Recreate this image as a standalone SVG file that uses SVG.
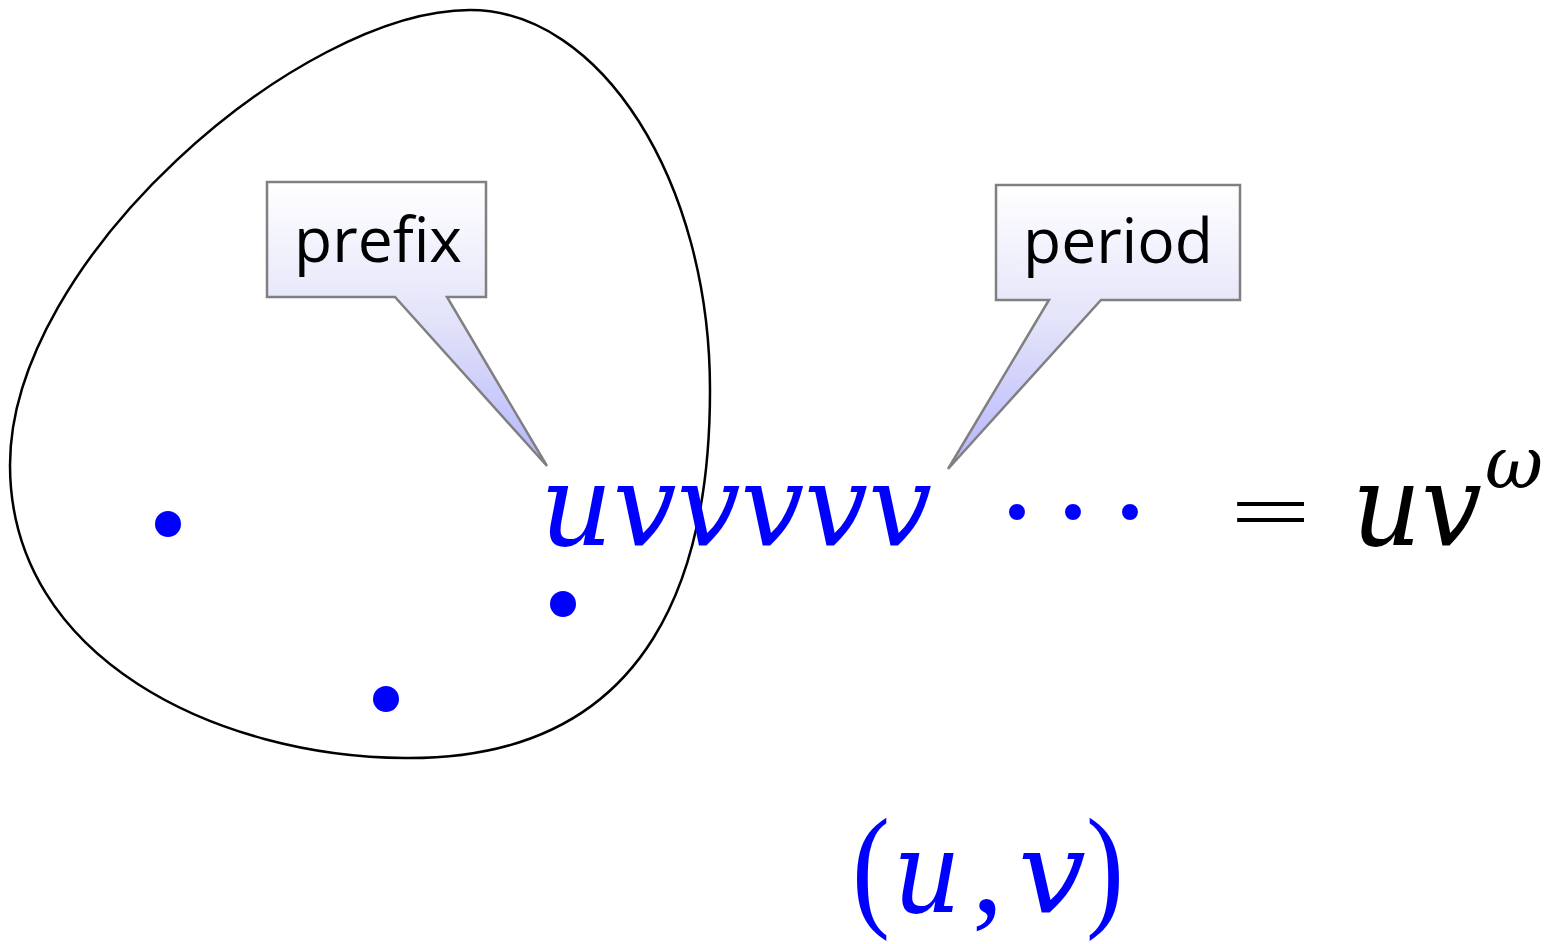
<svg xmlns="http://www.w3.org/2000/svg" width="1553" height="944" viewBox="0 0 1553 944">
<defs>
<linearGradient id="callg" x1="0" y1="0" x2="0" y2="1">
<stop offset="0" stop-color="#ffffff"/>
<stop offset="0.5" stop-color="#e2e2fa"/>
<stop offset="1" stop-color="#b4b4ff"/>
</linearGradient>
<style>
.blob{fill:none;stroke:#000;stroke-width:2.5}
.call{fill:url(#callg);stroke:#808080;stroke-width:2.5;stroke-linejoin:miter}
.lbl{font-family:"Open Sans","DejaVu Sans",sans-serif;font-size:62px;fill:#000}
.it{font-family:"DejaVu Serif",serif;font-style:italic}
.blue{fill:#0000ff}
.blk{fill:#000}
.dot{fill:#0000ff}
</style>
</defs>
<g id="set">
<path class="blob" d="M470,10 C600,10 710,180 710,390 C710,560 660,760 405,758 C220,757 10,660 10,465 C10,260 300,10 470,10 Z"/>
</g>
<g id="points">
<circle class="dot" cx="168" cy="524" r="13"/>
<circle class="dot" cx="563" cy="604" r="13"/>
<circle class="dot" cx="386" cy="699" r="13"/>
</g>
<g id="word" font-family="Liberation Serif, DejaVu Serif, serif" font-size="115">
<text class="blue it" x="540" y="545" textLength="392" lengthAdjust="spacingAndGlyphs">uvvvvv</text>
<text class="blue" x="1017 1073 1130" y="557" text-anchor="middle" font-size="135">···</text>
</g>
<g id="equation" font-family="Liberation Serif, DejaVu Serif, serif" font-size="115">
<text class="blk" x="1230" y="539" textLength="81" lengthAdjust="spacingAndGlyphs" font-size="80">=</text>
<text class="blk it" x="1352" y="545" textLength="130" lengthAdjust="spacingAndGlyphs">uv</text>
<text class="blk it" x="1485" y="488" font-size="72" textLength="58" lengthAdjust="spacingAndGlyphs">ω</text>
</g>
<g id="pair" font-family="Liberation Serif, DejaVu Serif, serif" font-size="115">
<text class="blue" x="852" y="912" font-size="135" textLength="38" lengthAdjust="spacingAndGlyphs">(</text>
<text class="blue it" x="893" y="912" textLength="68" lengthAdjust="spacingAndGlyphs">u</text>
<text class="blue" x="972" y="912" font-size="125">,</text>
<text class="blue it" x="1018" y="912" textLength="68" lengthAdjust="spacingAndGlyphs">v</text>
<text class="blue" x="1086" y="912" font-size="135" textLength="38" lengthAdjust="spacingAndGlyphs">)</text>
</g>
<g id="connectors">
<g id="prefix-callout">
<path class="call" d="M267,182 H486 V297 H447 L547,466 L395,297 H267 Z"/>
<text class="lbl" x="294" y="262" textLength="168" lengthAdjust="spacingAndGlyphs">prefix</text>
</g>
<g id="period-callout">
<path class="call" d="M996,185 H1240 V300 H1101 L948,469 L1049,300 H996 Z"/>
<text class="lbl" x="1023" y="263" textLength="190" lengthAdjust="spacingAndGlyphs">period</text>
</g>
</g>
</svg>
